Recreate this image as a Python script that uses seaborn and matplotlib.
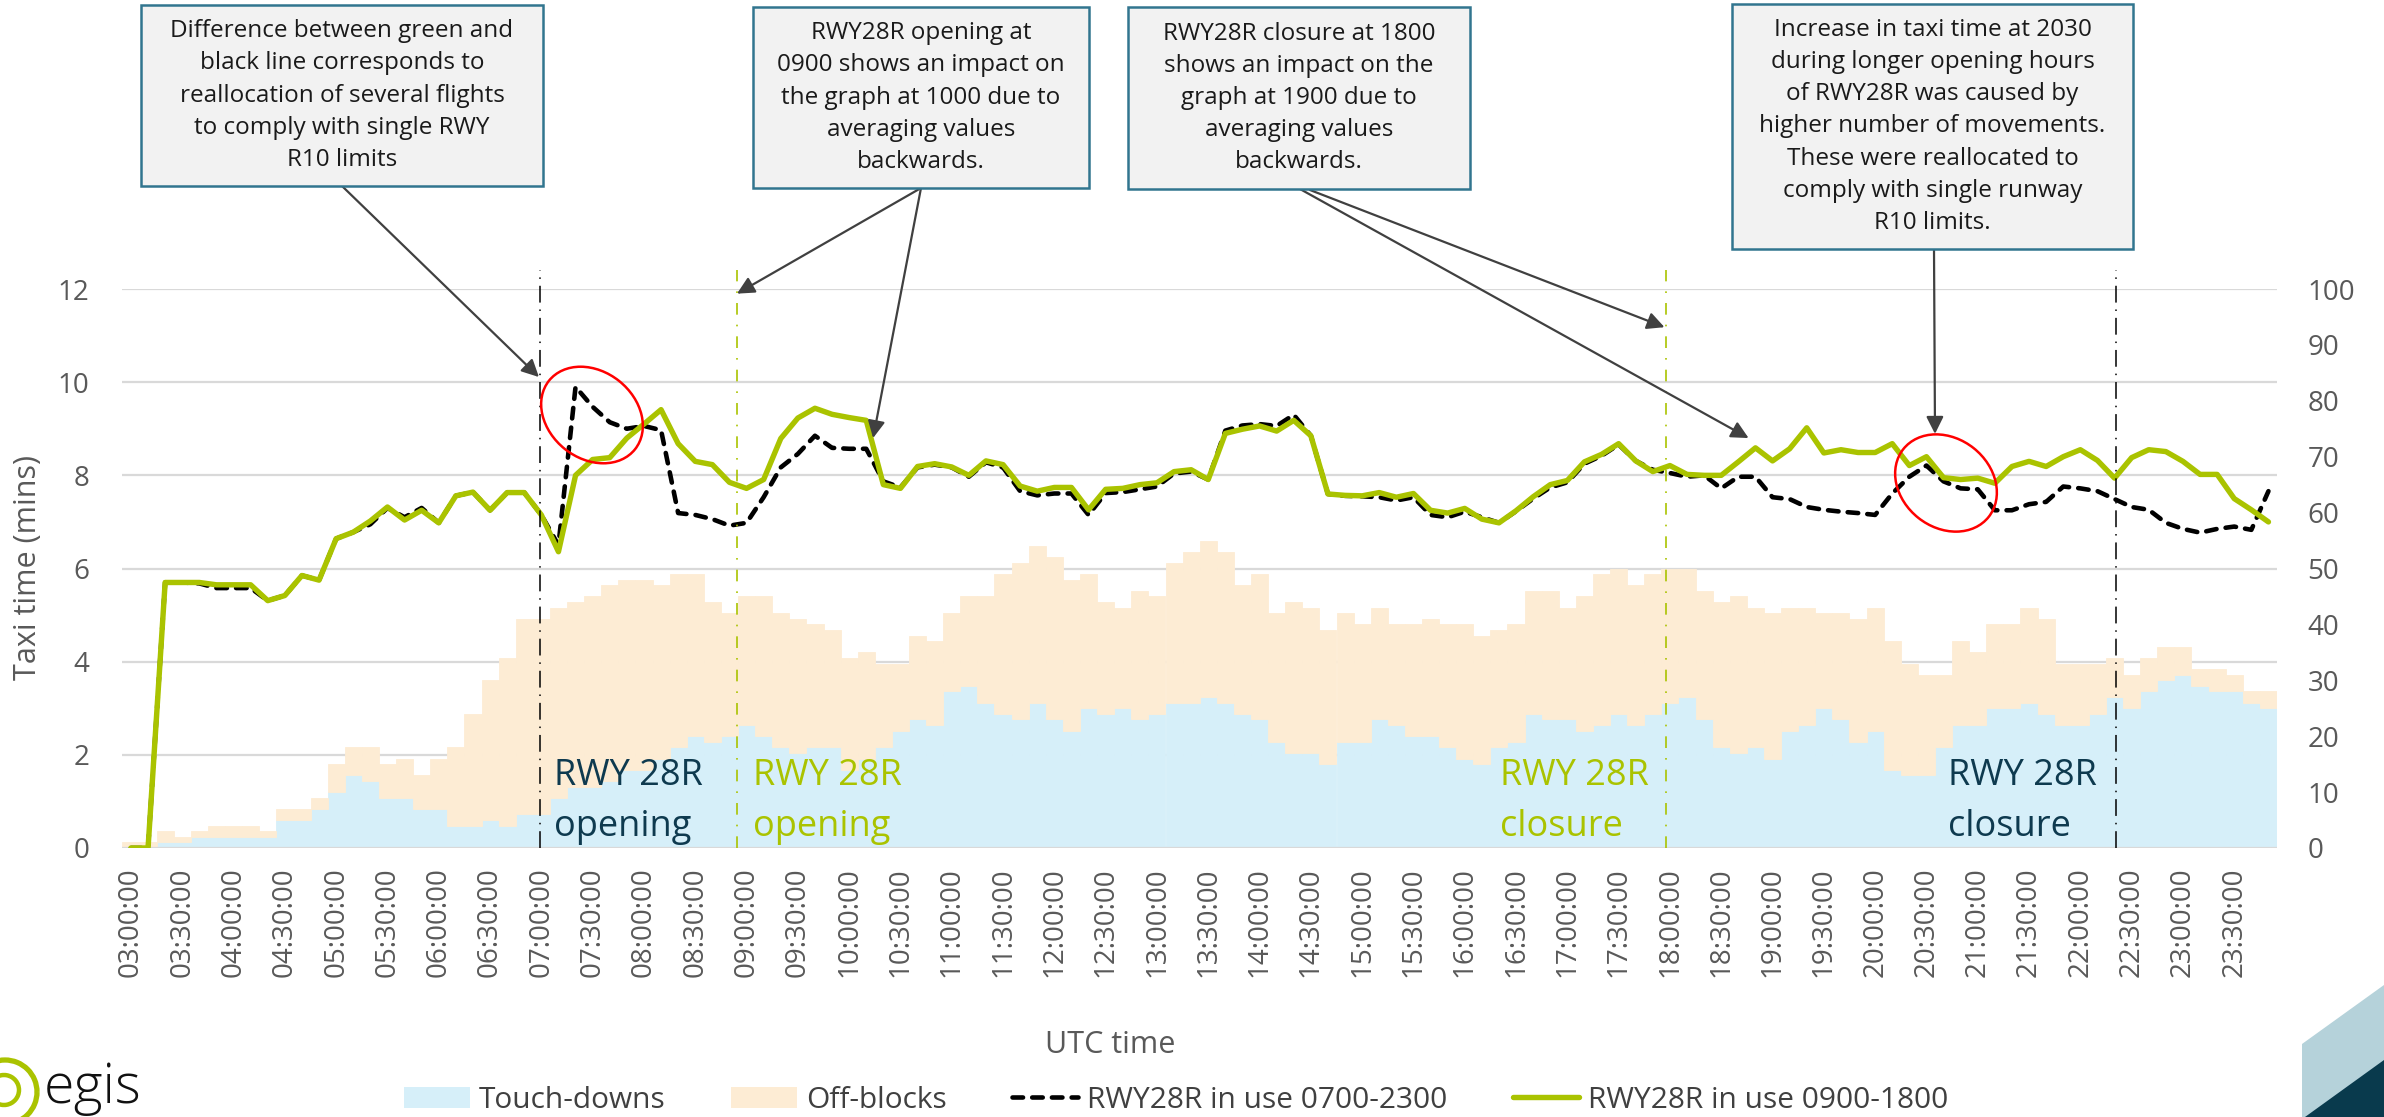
"""
taxi_time_chart.py
Taxi time vs. movements per 10-minute slot for two RWY28R opening scenarios.
"""
import numpy as np
import pandas as pd
import matplotlib
matplotlib.use("Agg")
import matplotlib.pyplot as plt
import seaborn as sns
from matplotlib.patches import Rectangle, Ellipse, Polygon, Arc, Patch
from matplotlib.lines import Line2D

W, H = 2384, 1117  # output size in pixels at dpi 100

# 10-minute slots, 03:00 .. 23:50
slots = [f"{h:02d}:{m:02d}:00" for h in range(3, 24) for m in range(0, 60, 10)]
tick_labels = slots[::3]

# movements per slot (right axis)
touch_downs = [
    0, 0, 1, 1, 2, 2, 2, 2, 2, 5,
    5, 7, 10, 13, 12, 9, 9, 7, 7, 4,
    4, 5, 4, 6, 6, 9, 11, 11, 12, 14,
    14, 16, 18, 20, 19, 20, 22, 20, 18, 17,
    18, 18, 14, 16, 18, 21, 23, 22, 28, 29,
    26, 24, 23, 26, 23, 21, 25, 24, 25, 23,
    24, 26, 26, 27, 26, 24, 23, 19, 17, 17,
    15, 19, 19, 23, 22, 20, 20, 18, 16, 15,
    18, 19, 24, 23, 23, 21, 22, 24, 22, 24,
    26, 27, 23, 18, 17, 18, 16, 21, 22, 25,
    23, 19, 21, 14, 13, 13, 18, 22, 22, 25,
    25, 26, 24, 22, 22, 24, 27, 25, 28, 30,
    31, 29, 28, 28, 26, 25]
off_blocks = [
    1, 1, 2, 1, 1, 2, 2, 2, 1, 2,
    2, 2, 5, 5, 6, 6, 7, 6, 9, 14,
    20, 25, 30, 35, 35, 34, 33, 34, 35, 34,
    34, 31, 31, 29, 25, 22, 23, 25, 24, 24,
    22, 21, 20, 19, 15, 12, 15, 15, 14, 16,
    19, 25, 28, 28, 29, 27, 24, 20, 18, 23,
    21, 25, 27, 28, 27, 23, 26, 23, 27, 26,
    24, 23, 21, 20, 18, 20, 21, 22, 24, 23,
    21, 21, 22, 23, 20, 24, 27, 26, 25, 25,
    24, 23, 23, 26, 28, 25, 26, 22, 21, 17,
    19, 22, 22, 23, 20, 18, 13, 15, 13, 15,
    15, 17, 17, 11, 11, 9, 7, 6, 6, 6,
    5, 3, 4, 3, 2, 3]

# taxi time in minutes (left axis)
taxi_0700_2300 = [
    0, 0, 5.70, 5.70, 5.68, 5.58, 5.58, 5.58, 5.31, 5.42,
    5.85, 5.75, 6.64, 6.78, 6.95, 7.30, 7.10, 7.30, 6.98, 7.56,
    7.64, 7.25, 7.63, 7.63, 7.15, 6.50, 9.90, 9.47, 9.14, 9.00,
    9.06, 8.97, 7.19, 7.15, 7.06, 6.92, 6.98, 7.53, 8.17, 8.46,
    8.85, 8.59, 8.57, 8.57, 7.87, 7.74, 8.17, 8.23, 8.17, 7.97,
    8.28, 8.17, 7.66, 7.57, 7.61, 7.61, 7.15, 7.62, 7.64, 7.70,
    7.76, 8.04, 8.08, 7.91, 8.96, 9.07, 9.10, 9.06, 9.30, 8.85,
    7.60, 7.56, 7.55, 7.53, 7.46, 7.53, 7.15, 7.10, 7.22, 7.10,
    6.98, 7.23, 7.50, 7.74, 7.85, 8.25, 8.42, 8.66, 8.31, 8.12,
    8.05, 7.97, 8.00, 7.72, 7.97, 7.97, 7.53, 7.49, 7.32, 7.26,
    7.22, 7.19, 7.15, 7.61, 7.97, 8.21, 7.87, 7.72, 7.70, 7.25,
    7.25, 7.38, 7.43, 7.76, 7.72, 7.66, 7.49, 7.32, 7.26, 6.98,
    6.85, 6.77, 6.85, 6.90, 6.83, 7.66]
taxi_0900_1800 = [
    0, 0, 5.70, 5.70, 5.70, 5.65, 5.65, 5.65, 5.31, 5.42,
    5.85, 5.75, 6.64, 6.78, 7.02, 7.32, 7.04, 7.25, 6.98, 7.56,
    7.64, 7.25, 7.63, 7.63, 7.15, 6.36, 8.00, 8.34, 8.38, 8.80,
    9.10, 9.41, 8.68, 8.30, 8.23, 7.85, 7.72, 7.91, 8.79, 9.23,
    9.44, 9.31, 9.24, 9.18, 7.80, 7.72, 8.19, 8.25, 8.18, 8.00,
    8.31, 8.23, 7.77, 7.66, 7.74, 7.74, 7.26, 7.70, 7.72, 7.80,
    7.84, 8.08, 8.12, 7.91, 8.90, 8.99, 9.06, 8.95, 9.18, 8.85,
    7.60, 7.57, 7.56, 7.63, 7.53, 7.61, 7.25, 7.19, 7.29, 7.06,
    6.98, 7.24, 7.54, 7.80, 7.89, 8.29, 8.45, 8.68, 8.31, 8.08,
    8.21, 8.02, 8.00, 8.00, 8.29, 8.59, 8.31, 8.57, 9.02, 8.48,
    8.55, 8.49, 8.49, 8.68, 8.21, 8.40, 7.95, 7.91, 7.94, 7.83,
    8.19, 8.30, 8.19, 8.40, 8.55, 8.32, 7.94, 8.38, 8.55, 8.51,
    8.30, 8.02, 8.02, 7.50, 7.26, 7.00]

BLUE = "#D6EFF9"
BEIGE = "#FDECD4"
GREEN = "#AAC300"
NAVY = "#0E3A4F"
GRAY = "#595959"
GRID = "#D9D9D9"
ARROW = "#404040"


def fx(x):
    return x / W


def fy(y):
    return 1 - y / H


sns.set_theme(style="white")
plt.rcParams["font.family"] = ["Open Sans", "DejaVu Sans"]

df = pd.DataFrame({"slot": slots, "touch": touch_downs, "off": off_blocks,
                   "long": taxi_0700_2300, "short": taxi_0900_1800})
idx = np.arange(len(slots))

fig = plt.figure(figsize=(W / 100, H / 100), dpi=100)
fig.patch.set_facecolor("white")

ax_bars = fig.add_axes([fx(122.4), fy(848), (2277 - 122.4) / W, (848 - 289) / H])
ax_lines = ax_bars.twinx()

# === stacked movements (right axis) ===
for k in range(7):
    ax_bars.axhline(k * 100 / 6, color=GRID, lw=1.6, zorder=0.5)
sns.barplot(data=df, x="slot", y="touch", color=BLUE, saturation=1, width=1,
            errorbar=None, edgecolor=BLUE, linewidth=0.6, ax=ax_bars, zorder=2)
ax_bars.bar(idx, df["off"], bottom=df["touch"], width=1, color=BEIGE,
            edgecolor=BEIGE, linewidth=0.6, zorder=2)
ax_bars.axhline(0, color=GRID, lw=1.6, zorder=3)

# === taxi time lines (left axis) ===
dash_long = (0, (2.3, 2.0))
sns.lineplot(x=idx, y=df["long"], ax=ax_lines, color="black", linewidth=3.3,
             linestyle=dash_long, dash_capstyle="round")
sns.lineplot(x=idx, y=df["short"], ax=ax_lines, color=GREEN, linewidth=3.9)

ax_bars.set_xlim(-0.5, len(slots) - 0.5)
ax_bars.set_ylim(0, 100)
ax_lines.set_ylim(0, 12)
ax_bars.set_xlabel("")
ax_bars.set_ylabel("")
ax_lines.set_xlabel("")
ax_lines.set_ylabel("")

ax_bars.set_xticks(idx[::3])
ax_bars.set_xticklabels(tick_labels, rotation=90, fontsize=20, color=GRAY)
ax_bars.tick_params(axis="x", length=0, pad=14)
ax_bars.yaxis.tick_right()
ax_bars.set_yticks(range(0, 101, 10))
ax_bars.tick_params(axis="y", length=0, pad=22, labelsize=20, labelcolor=GRAY)
ax_lines.yaxis.tick_left()
ax_lines.set_yticks(range(0, 13, 2))
ax_lines.tick_params(axis="y", length=0, pad=24, labelsize=20, labelcolor=GRAY)
for a in (ax_bars, ax_lines):
    for s in a.spines.values():
        s.set_visible(False)

# runway opening / closure markers
black_dd = (0, (11, 4.5, 1.0, 4.5))
green_dd = (0, (7, 6, 1.0, 6))
ax_lines.axvline(23.93, ymax=1.034, clip_on=False, color="black", lw=1.1, ls=black_dd)
ax_lines.axvline(116.07, ymax=1.034, clip_on=False, color="black", lw=1.1, ls=black_dd)
ax_lines.axvline(35.45, ymax=1.034, clip_on=False, color=GREEN, lw=1.2, ls=green_dd)
ax_lines.axvline(89.74, ymax=1.034, clip_on=False, color=GREEN, lw=1.2, ls=green_dd)

for x, txt, col in [(24.72, "RWY 28R\nopening", NAVY), (36.39, "RWY 28R\nopening", GREEN),
                    (80.09, "RWY 28R\nclosure", GREEN), (106.28, "RWY 28R\nclosure", NAVY)]:
    ax_lines.text(x, 0.07, txt, color=col, fontsize=26, ha="left", va="bottom",
                  linespacing=1.55, zorder=5)

# === annotation boxes and arrows ===
boxes = [
    (141, 5, 543, 186, "Difference between green and\nblack line corresponds to\n"
                       "reallocation of several flights\nto comply with single RWY\nR10 limits"),
    (753, 7, 1089, 188, "RWY28R opening at\n0900 shows an impact on\n"
                        "the graph at 1000 due to\naveraging values\nbackwards."),
    (1128, 7, 1470, 189, "RWY28R closure at 1800\nshows an impact on the\n"
                         "graph at 1900 due to\naveraging values\nbackwards."),
    (1732, 4, 2133, 249, "Increase in taxi time at 2030\nduring longer opening hours\n"
                         "of RWY28R was caused by\nhigher number of movements.\n"
                         "These were reallocated to\ncomply with single runway\nR10 limits."),
]
for x0, y0, x1, y1, txt in boxes:
    fig.add_artist(Rectangle((fx(x0), fy(y1)), (x1 - x0) / W, (y1 - y0) / H,
                             transform=fig.transFigure, facecolor="#F2F2F2",
                             edgecolor="#31758F", lw=1.8, zorder=3))
    fig.text(fx((x0 + x1) / 2), fy((y0 + y1) / 2), txt, ha="center", va="center",
             fontsize=17.5, linespacing=1.45, color="#1A1A1A", zorder=4)

arrows = [
    ((342, 186), (23.86, 10.11)),
    ((921, 188), (35.44, 11.90)),
    ((921, 188), (43.40, 8.80)),
    ((1310, 190), (89.68, 11.18)),
    ((1300, 189), (94.60, 8.80)),
    ((1934, 249), (105.50, 8.89)),
]
for (sx, sy), tip in arrows:
    ax_lines.annotate("", xy=tip, xycoords="data", xytext=(sx, H - sy),
                      textcoords="figure pixels", annotation_clip=False,
                      arrowprops=dict(arrowstyle="-|>", color=ARROW, lw=1.6,
                                      mutation_scale=26, shrinkA=0, shrinkB=0))

for cx, cy, w, h in [(592, 415, 110, 87), (1946, 483, 109, 89)]:
    fig.add_artist(Ellipse((cx / 100, (H - cy) / 100), w / 100, h / 100, angle=-38.5,
                           transform=fig.dpi_scale_trans, fill=False,
                           edgecolor="red", lw=1.8, zorder=5))

# === axis titles and legend ===
fig.text(fx(28), fy(568), "Taxi time (mins)", rotation=90, ha="center", va="center",
         fontsize=22, color=GRAY)
fig.text(fx(1110), fy(1045), "UTC time", ha="center", va="center", fontsize=22, color=GRAY)

handles = [
    Patch(facecolor=BLUE, edgecolor="none", label="Touch-downs"),
    Patch(facecolor=BEIGE, edgecolor="none", label="Off-blocks"),
    Line2D([], [], color="black", lw=3.3, linestyle=dash_long,
           dash_capstyle="round", label="RWY28R in use 0700-2300"),
    Line2D([], [], color=GREEN, lw=3.9, label="RWY28R in use 0900-1800"),
]
fig.legend(handles=handles, loc="center", bbox_to_anchor=(fx(1176), fy(1100)), ncol=4,
           frameon=False, prop={"size": 21.5}, handlelength=2.2, handleheight=0.7,
           handletextpad=0.3, columnspacing=2.2, labelcolor="#404040")

# === logo and corner decoration ===
fig.add_artist(Arc((5 / 100, (H - 1092) / 100), 64 / 100, 64 / 100,
                   transform=fig.dpi_scale_trans, color=GREEN, lw=3.8))
fig.add_artist(Arc((4 / 100, (H - 1090) / 100), 30 / 100, 30 / 100, theta1=200, theta2=520,
                   transform=fig.dpi_scale_trans, color=GREEN, lw=3.2))
fig.text(fx(44), fy(1103), "egis", ha="left", va="baseline", fontsize=40,
         fontweight="light", color="#111111")
fig.add_artist(Polygon([(fx(2302), fy(1117)), (fx(2302), fy(1044)), (fx(2384), fy(985)),
                        (fx(2384), fy(1117))], closed=True, transform=fig.transFigure,
                       facecolor="#B5D2DA", edgecolor="none"))
fig.add_artist(Polygon([(fx(2305), fy(1117)), (fx(2384), fy(1060)), (fx(2384), fy(1117))],
                       closed=True, transform=fig.transFigure,
                       facecolor="#093A4D", edgecolor="none"))

fig.savefig("out.png", dpi=100, facecolor="white")
plt.close(fig)
